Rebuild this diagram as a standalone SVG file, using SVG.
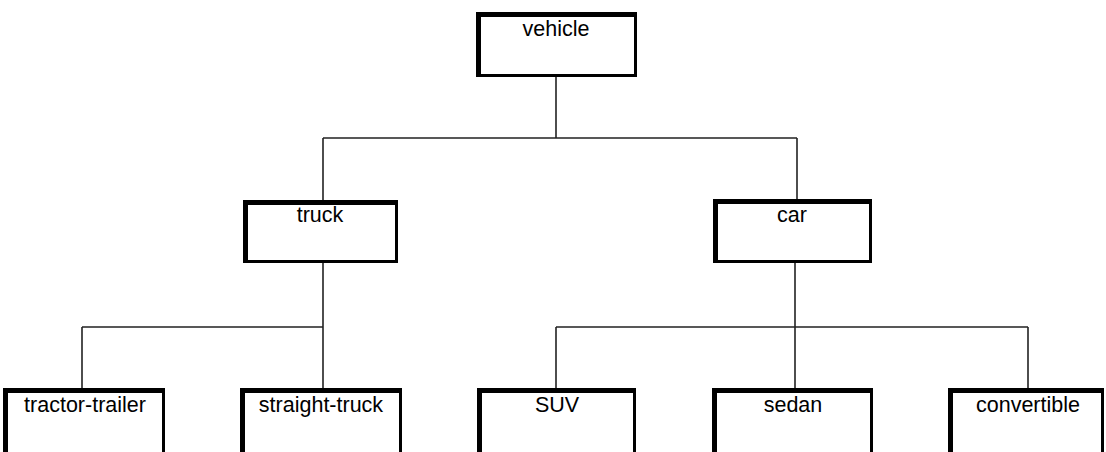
<svg xmlns="http://www.w3.org/2000/svg" width="1106" height="452" viewBox="0 0 1106 452">
<style>
.frame{fill:#000}
.face{fill:#fff}
.lbl{font-family:"Liberation Sans",Arial,sans-serif;font-size:21.5px;fill:#000;text-anchor:middle}
.conn{fill:none;stroke:#222;stroke-width:1.6}
</style>
<rect width="1106" height="452" fill="#fff"/>
<g id="connectors">
<path class="conn" d="M556 77V138M323 138H797M323 138V200M797 138V199"/>
<path class="conn" d="M323 263V327M82 327H323M82 327V388M323 327V388"/>
<path class="conn" d="M795 263V327M556 327H1028M556 327V388M795 327V388M1028 327V388"/>
</g>
<g id="vehicle"><rect class="frame" x="476" y="12" width="161" height="65"/><rect class="face" x="481" y="17" width="153" height="57"/><text class="lbl" x="556" y="36">vehicle</text></g>
<g id="truck"><rect class="frame" x="243" y="200" width="155" height="63"/><rect class="face" x="248" y="205" width="147" height="55"/><text class="lbl" x="320" y="222">truck</text></g>
<g id="car"><rect class="frame" x="713" y="199" width="159" height="64"/><rect class="face" x="718" y="204" width="151" height="56"/><text class="lbl" x="792" y="222">car</text></g>
<g id="tractor-trailer"><rect class="frame" x="3" y="388" width="162" height="70"/><rect class="face" x="8" y="393" width="154" height="62"/><text class="lbl" x="85" y="412">tractor-trailer</text></g>
<g id="straight-truck"><rect class="frame" x="240" y="388" width="162" height="70"/><rect class="face" x="245" y="393" width="154" height="62"/><text class="lbl" x="321" y="412">straight-truck</text></g>
<g id="suv"><rect class="frame" x="477" y="388" width="159" height="70"/><rect class="face" x="482" y="393" width="151" height="62"/><text class="lbl" x="557" y="412">SUV</text></g>
<g id="sedan"><rect class="frame" x="712" y="388" width="161" height="70"/><rect class="face" x="717" y="393" width="153" height="62"/><text class="lbl" x="793" y="412">sedan</text></g>
<g id="convertible"><rect class="frame" x="948" y="388" width="156" height="70"/><rect class="face" x="953" y="393" width="148" height="62"/><text class="lbl" x="1028" y="412">convertible</text></g>
</svg>
